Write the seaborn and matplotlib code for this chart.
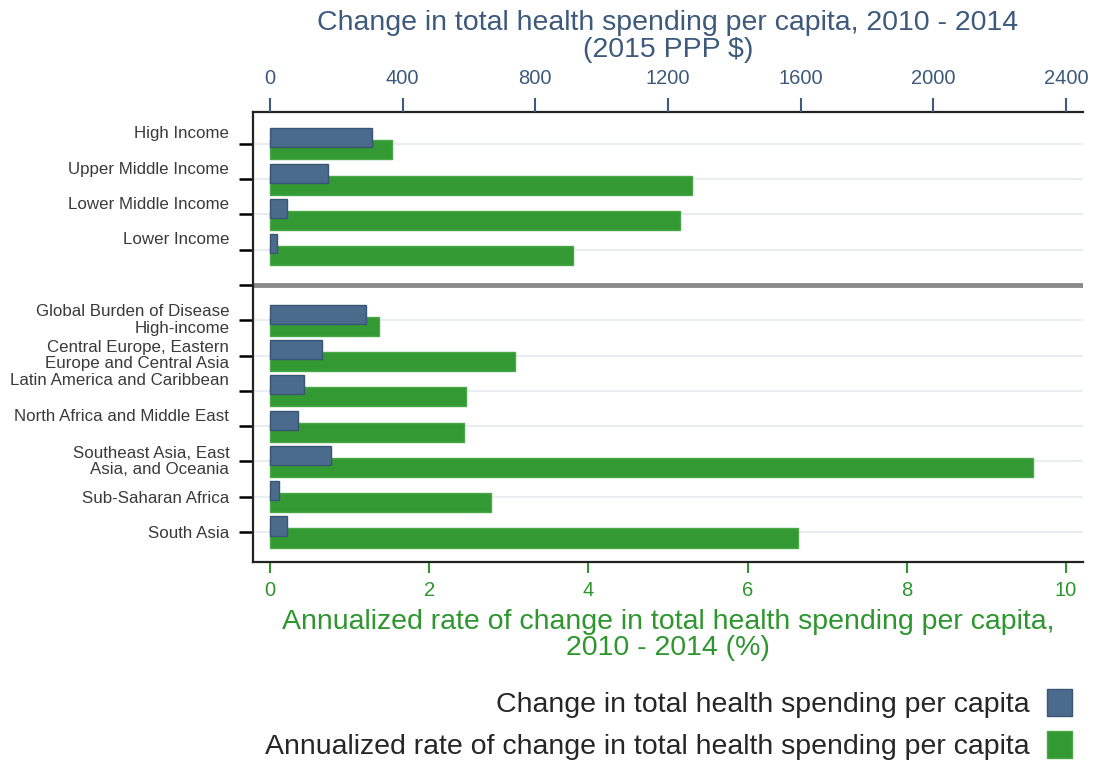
import numpy as np
import pandas as pd
import matplotlib
matplotlib.use("Agg")
import matplotlib.pyplot as plt
import seaborn as sns
from matplotlib.patches import Patch

# Income groups (World Bank classification)
income_groups = ["High Income", "Upper Middle Income", "Lower Middle Income", "Lower Income"]
income_change = [307, 175, 51, 21]          # 2015 PPP $ per capita
income_rate = [1.53, 5.30, 5.15, 3.81]      # annualized %

# GBD super-regions
regions = [
    "Global Burden of Disease\nHigh-income",
    "Central Europe, Eastern\nEurope and Central Asia",
    "Latin America and Caribbean",
    "North Africa and Middle East",
    "Southeast Asia, East\nAsia, and Oceania",
    "Sub-Saharan Africa",
    "South Asia",
]
region_change = [289, 157, 103, 84, 184, 27, 51]
region_rate = [1.37, 3.08, 2.46, 2.44, 9.59, 2.78, 6.63]

top_ticks = [0, 400, 800, 1200, 1600, 2000, 2400]
bottom_ticks = [0, 2, 4, 6, 8, 10]

label_change = "Change in total health spending per capita"
label_rate = "Annualized rate of change in total health spending per capita"

BLUE, BLUE_EDGE, BLUE_TEXT = "#4a6b8c", "#3a5675", "#3d5a7c"
GREEN, GREEN_EDGE, GREEN_TEXT = "#339933", "#48a848", "#2e962e"

# one slot per row, with an empty slot separating the two groupings
sep_slot = len(income_groups)
slots = np.r_[np.arange(sep_slot), np.arange(sep_slot + 1, sep_slot + 1 + len(regions))]
df = pd.DataFrame({
    "group": income_groups + regions,
    "slot": slots,
    "change": income_change + region_change,
    "rate": income_rate + region_rate,
})

# single-line labels sit a little above their tick
centered = ("Sub-Saharan Africa", "South Asia")
tick_labels = [g if ("\n" in g or g in centered) else g + "\n" for g in df["group"]]
all_slots = list(np.arange(slots.max() + 1))
all_labels = []
for s in all_slots:
    hit = np.where(slots == s)[0]
    all_labels.append(tick_labels[hit[0]] if len(hit) else "")

sns.set_style("white")
plt.rcParams["font.family"] = ["Liberation Sans", "DejaVu Sans"]

fig = plt.figure(figsize=(10.97, 7.61), dpi=100)
ax = fig.add_axes([0.2306, 0.2615, 0.7566, 0.5913])
ax2 = ax.twiny()

bar_offset = 0.17
sns.barplot(x=df["rate"], y=df["slot"] + bar_offset, orient="h", native_scale=True,
            width=0.54, color=GREEN, saturation=1, edgecolor=GREEN_EDGE, linewidth=1,
            errorbar=None, ax=ax)
sns.barplot(x=df["change"], y=df["slot"] - bar_offset, orient="h", native_scale=True,
            width=0.54, color=BLUE, saturation=1, edgecolor=BLUE_EDGE, linewidth=1,
            errorbar=None, ax=ax2)

ax.set_ylim(slots.max() + 0.85, -0.9)
ax.set_xlim(-0.214, 10.214)
ax2.set_xlim(-0.214 * 240, 10.214 * 240)

ax.set_yticks(all_slots)
ax.set_yticklabels(all_labels, fontsize=12.2, color="#3a3a3a", linespacing=1.15)
for lbl in ax.get_yticklabels():
    if lbl.get_text().endswith("\n"):
        lbl.set_va("center")
        lbl.set_linespacing(1.4)
    elif "\n" in lbl.get_text():
        lbl.set_va("center")
ax.tick_params(axis="y", length=10, width=1.8, color="black", pad=7, left=True)
ax.set_ylabel("")
ax2.set_ylabel("")

ax.yaxis.grid(True, color="#e8eef1", lw=1.5)
ax.set_axisbelow(True)
ax.axhline(sep_slot, color="#8a8a8a", lw=3.5, zorder=1)

ax.set_xticks(bottom_ticks)
ax.set_xticklabels([str(t) for t in bottom_ticks], fontsize=14.5)
ax.tick_params(axis="x", colors=GREEN_TEXT, length=8, width=1.5, bottom=True, pad=6)
ax.set_xlabel("Annualized rate of change in total health spending per capita,\n2010 - 2014 (%)",
              color=GREEN_TEXT, fontsize=20.5, linespacing=1.03, labelpad=6)

ax2.set_xticks(top_ticks)
ax2.set_xticklabels([str(t) for t in top_ticks], fontsize=14.5)
ax2.tick_params(axis="x", colors=BLUE_TEXT, length=10, width=1.5, top=True, pad=7)
ax2.set_xlabel("Change in total health spending per capita, 2010 - 2014\n(2015 PPP $)",
               color=BLUE_TEXT, fontsize=20.5, linespacing=1.03, labelpad=9)

for name, sp in ax.spines.items():
    sp.set_visible(name != "right")
    sp.set_color("#222222")
    sp.set_linewidth(1.6)
for sp in ax2.spines.values():
    sp.set_visible(False)

handles = [
    Patch(facecolor=BLUE, edgecolor=BLUE_EDGE, label=label_change),
    Patch(facecolor=GREEN, edgecolor=GREEN_EDGE, label=label_rate),
]
fig.legend(handles=handles, loc="upper right", bbox_to_anchor=(0.977, 0.094),
           frameon=False, markerfirst=False, fontsize=20.5, handlelength=0.88,
           handleheight=1.05, labelspacing=0.45, handletextpad=0.6,
           borderaxespad=0, borderpad=0)

fig.savefig("out.png", dpi=100)
